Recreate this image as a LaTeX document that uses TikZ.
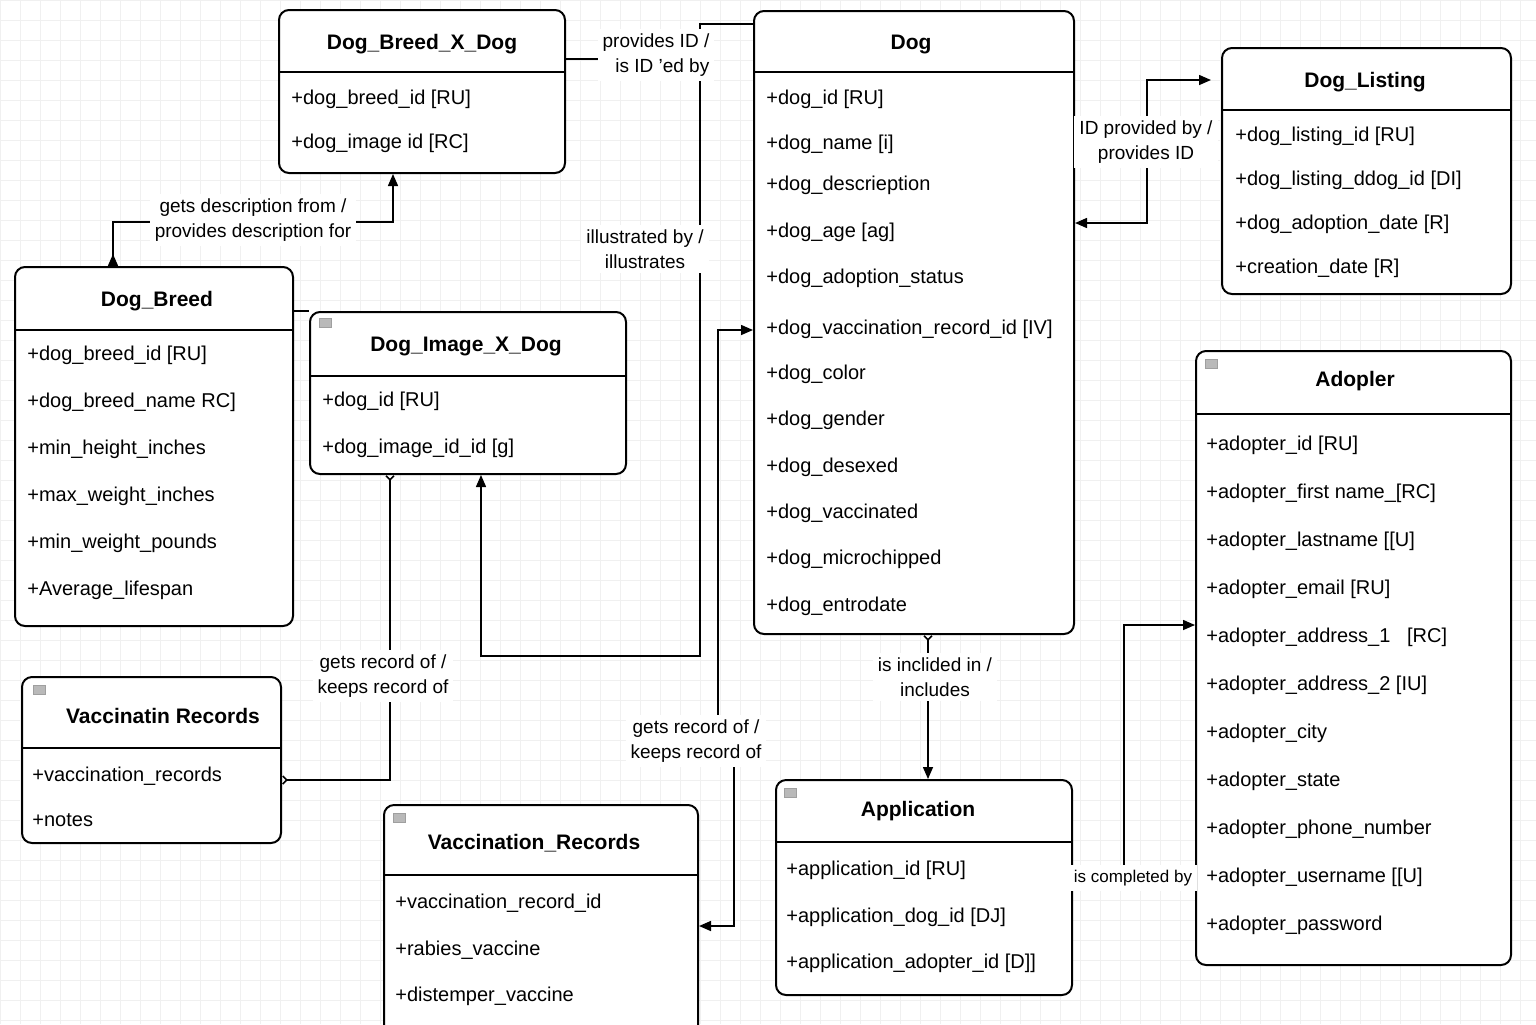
\documentclass[tikz,border=0pt]{standalone}
\usepackage{fontspec}
\setmainfont{Liberation Sans}
\usetikzlibrary{arrows.meta,fit}
\tikzset{x=0.5pt, y=-0.5pt,
    >={Triangle[length=6pt,width=5pt]},
    cbarb/.tip={Straight Barb[reversed,length=2pt,width=4pt]},
    entity/.style={draw, line width=1pt, rounded corners=5pt, fill=white, inner sep=0pt},
    ename/.style={font=\bfseries\fontsize{10.5}{12}\selectfont, inner sep=0pt},
    attrs/.style={anchor=north west, align=left, inner sep=0pt, font=\fontsize{10}{#1}\selectfont},
    rel/.style={fill=white, align=center, inner sep=2.5pt, font=\fontsize{9.5}{12.5}\selectfont},
    link/.style={line width=0.75pt},
    tblicon/.style={fill=gray!55, draw=gray!75, line width=0.3pt, minimum width=6pt, minimum height=4.5pt, inner sep=0pt},
    gridline/.style={draw=black!6, line width=0.4pt},
    }
\begin{document}
\begin{tikzpicture}
\useasboundingbox (0,0) rectangle (1536,1024);
\clip (0,0) rectangle (1536,1024);
\fill[white] (0,0) rectangle (1536,1024);
\draw[gridline, step=10pt] (0,0) grid (1536,1024);

% Dog_Breed_X_Dog
\node[entity, fit={(279,10) (565,173)}] (bxd) {};
\node[ename] (bxd-t) at (422,44) {Dog\_Breed\_X\_Dog};
\draw[line width=1pt] (bxd.west |- 0,72) -- (bxd.east |- 0,72);
\node[attrs=22pt] (bxd-a) at (291,90) {+dog\_breed\_id [RU]\\+dog\_image id [RC]};

% Dog
\node[entity, fit={(754,11) (1074,634)}] (dog) {};
\node[ename] (dog-t) at (911,44) {Dog};
\draw[line width=1pt] (dog.west |- 0,72) -- (dog.east |- 0,72);
\node[attrs=23.2pt] (dog-a) at (766,90) {+dog\_id [RU]\\[-1pt]+dog\_name [i]\\[-2.5pt]+dog\_descrieption\\+dog\_age [ag]\\+dog\_adoption\_status\\[2.5pt]+dog\_vaccination\_record\_id [IV]\\[-1pt]+dog\_color\\+dog\_gender\\+dog\_desexed\\+dog\_vaccinated\\+dog\_microchipped\\+dog\_entrodate};

% Dog_Listing
\node[entity, fit={(1222,48) (1511,294)}] (listing) {};
\node[ename] (listing-t) at (1365,82) {Dog\_Listing};
\draw[line width=1pt] (listing.west |- 0,110) -- (listing.east |- 0,110);
\node[attrs=22pt] (listing-a) at (1235,127) {+dog\_listing\_id [RU]\\+dog\_listing\_ddog\_id [DI]\\+dog\_adoption\_date [R]\\+creation\_date [R]};

% Dog_Breed
\node[entity, fit={(15,267) (293,626)}] (breed) {};
\node[ename] (breed-t) at (157,301) {Dog\_Breed};
\draw[line width=1pt] (breed.west |- 0,330) -- (breed.east |- 0,330);
\node[attrs=23.5pt] (breed-a) at (27,346) {+dog\_breed\_id [RU]\\+dog\_breed\_name RC]\\+min\_height\_inches\\+max\_weight\_inches\\+min\_weight\_pounds\\+Average\_lifespan};

% Dog_Image_X_Dog
\node[entity, fit={(310,312) (626,474)}] (dixd) {};
\node[tblicon] (dixd-i) at (325,323) {};
\node[ename] (dixd-t) at (466,346) {Dog\_Image\_X\_Dog};
\draw[line width=1pt] (dixd.west |- 0,376) -- (dixd.east |- 0,376);
\node[attrs=23.5pt] (dixd-a) at (322,392) {+dog\_id [RU]\\+dog\_image\_id\_id [g]};

% Vaccinatin Records
\node[entity, fit={(22,677) (281,843)}] (vacc) {};
\node[tblicon] (vacc-i) at (39,690) {};
\node[ename] (vacc-t) at (163,716) {Vaccinatin Records};
\draw[line width=1pt] (vacc.west |- 0,748) -- (vacc.east |- 0,748);
\node[attrs=22.5pt] (vacc-a) at (32,767) {+vaccination\_records\\+notes};

% Vaccination_Records
\node[entity, fit={(384,805) (698,1060)}] (vrec) {};
\node[tblicon] (vrec-i) at (399,818) {};
\node[ename] (vrec-t) at (534,843) {Vaccination\_Records};
\draw[line width=1pt] (vrec.west |- 0,875) -- (vrec.east |- 0,875);
\node[attrs=23.25pt] (vrec-a) at (395,894) {+vaccination\_record\_id\\+rabies\_vaccine\\+distemper\_vaccine};

% Application
\node[entity, fit={(776,780) (1072,995)}] (app) {};
\node[tblicon] (app-i) at (790,793) {};
\node[ename] (app-t) at (918,811) {Application};
\draw[line width=1pt] (app.west |- 0,842) -- (app.east |- 0,842);
\node[attrs=23.25pt] (app-a) at (786,861) {+application\_id [RU]\\+application\_dog\_id [DJ]\\+application\_adopter\_id [D]]};

% Adopler
\node[entity, fit={(1196,351) (1511,965)}] (adop) {};
\node[tblicon] (adop-i) at (1211,364) {};
\node[ename] (adop-t) at (1355,381) {Adopler};
\draw[line width=1pt] (adop.west |- 0,414) -- (adop.east |- 0,414);
\node[attrs=24pt] (adop-a) at (1206,436) {+adopter\_id [RU]\\+adopter\_first name\_[RC]\\+adopter\_lastname [[U]\\+adopter\_email [RU]\\+adopter\_address\_1\ \ \ [RC]\\+adopter\_address\_2 [IU]\\+adopter\_city\\+adopter\_state\\+adopter\_phone\_number\\+adopter\_username [[U]\\+adopter\_password};

% connectors
\coordinate (provid-in) at (600,59);
\draw[link, {Triangle[reversed,length=6pt,width=5pt]}->] (breed.north -| 113,0) -- (113,222) -- (393,222) -- (bxd.south -| 393,0);
\draw[link] (bxd.east |- 0,59) -- (provid-in);
\draw[link, ->] (dog.west |- 0,24) -- (700,24) -- (700,656) -- (481,656) -- (dixd.south -| 481,0);
\draw[link, cbarb-cbarb] (dixd.south -| 390,0) -- (390,780) -- (vacc.east |- 0,780);
\draw[link, <->] (vrec.east |- 0,926) -- (734,926) -- (734,741) -- (718,741) -- (718,330) -- (dog.west |- 0,330);
\draw[link, cbarb->] (dog.south -| 928,0) -- (app.north -| 928,0);
\draw[link, <->, shorten >=5pt] (dog.east |- 0,223) -- (1147,223) -- (1147,80) -- (listing.west |- 0,80);
\draw[link, ->] (app.east |- 0,878) -- (1124,878) -- (1124,625) -- (adop.west |- 0,625);
\draw[link] (breed.east |- 0,311) -- (dixd.west |- 0,311);

% labels
\node[rel, align=right] (provid) at (656,55) {provides ID /\\is ID ’ed by};
\node[rel] (gdesc) at (253,220) {gets description from /\\provides description for};
\node[rel] (illus) at (645,249) {illustrated by /\\illustrates};
\node[rel] (rec1) at (383,676) {gets record of /\\keeps record of};
\node[rel] (rec2) at (696,741) {gets record of /\\keeps record of};
\node[rel] (incl) at (935,677) {is inclided in /\\includes};
\node[rel] (idprov) at (1146,142) {ID provided by /\\provides ID};
\node[rel, font=\fontsize{8.5}{10}\selectfont] (compl) at (1133,878) {is completed by};
\end{tikzpicture}
\end{document}
